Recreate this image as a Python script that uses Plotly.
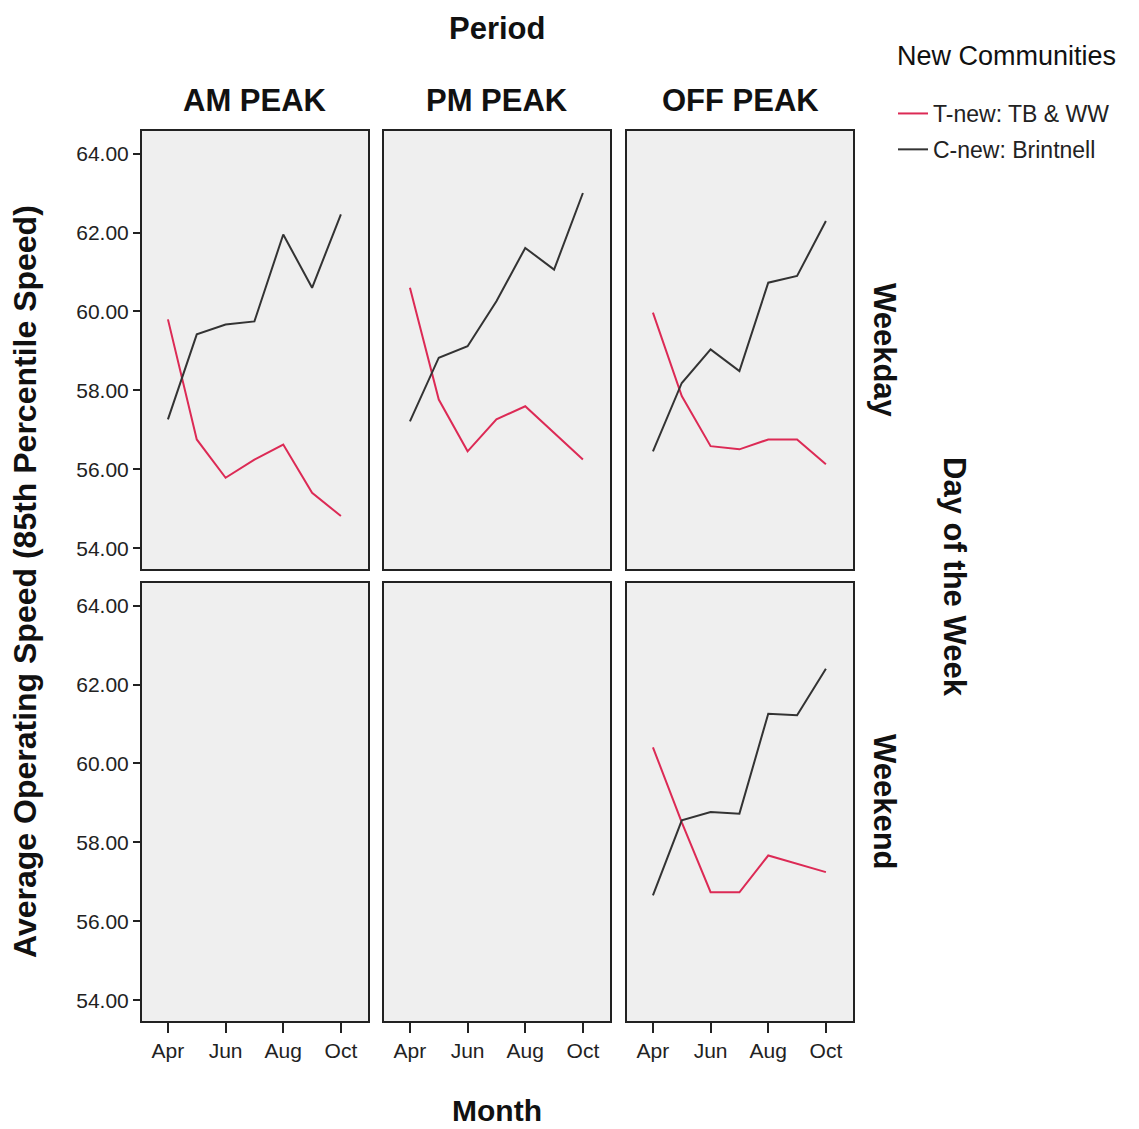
import plotly.graph_objects as go

# Months on the x axis and the labelled subset
months = ["Apr", "May", "Jun", "Jul", "Aug", "Sep", "Oct"]
month_ticks = ["Apr", "Jun", "Aug", "Oct"]

periods = ["AM PEAK", "PM PEAK", "OFF PEAK"]
days = ["Weekday", "Weekend"]
series_names = ["T-new: TB & WW", "C-new: Brintnell"]

# Average operating speed (85th percentile) by period / day type
am_weekday_t = [59.80, 56.76, 55.79, 56.25, 56.63, 55.41, 54.82]
am_weekday_c = [57.27, 59.42, 59.67, 59.75, 61.95, 60.60, 62.46]
pm_weekday_t = [60.60, 57.77, 56.46, 57.27, 57.60, 56.93, 56.25]
pm_weekday_c = [57.22, 58.83, 59.12, 60.26, 61.61, 61.06, 63.00]
off_weekday_t = [59.97, 57.86, 56.59, 56.51, 56.76, 56.76, 56.13]
off_weekday_c = [56.46, 58.19, 59.04, 58.49, 60.73, 60.90, 62.29]
off_weekend_t = [60.41, 58.51, 56.74, 56.74, 57.67, 57.46, 57.25]
off_weekend_c = [56.66, 58.56, 58.77, 58.73, 61.26, 61.22, 62.40]

y_ticks = [54, 56, 58, 60, 62, 64]

# (row, col) -> (T-new values, C-new values); empty panels have no data
panels = {
    (0, 0): (am_weekday_t, am_weekday_c),
    (0, 1): (pm_weekday_t, pm_weekday_c),
    (0, 2): (off_weekday_t, off_weekday_c),
    (1, 2): (off_weekend_t, off_weekend_c),
}

W, H = 1139, 1129
FONT = "Liberation Sans, Arial, sans-serif"
COLORS = ["#dc2a55", "#333333"]

col_px = [(142, 368), (384, 610), (627, 853)]
row_px = [(131, 569), (583, 1021)]


def xdom(c):
    a, b = col_px[c]
    return [a / W, b / W]


def ydom(r):
    a, b = row_px[r]
    return [1 - b / H, 1 - a / H]


fig = go.Figure()
layout = {}
shown = set()
for r in range(2):
    for c in range(3):
        idx = r * 3 + c + 1
        sx = "" if idx == 1 else str(idx)
        layout["xaxis" + sx] = dict(
            domain=xdom(c), anchor="y" + sx, type="category",
            categoryorder="array", categoryarray=months,
            range=[-0.9, 6.94], showgrid=False, zeroline=False,
            showline=True, mirror=True, linecolor="#222", linewidth=2,
            ticks="outside" if r == 1 else "", ticklen=10, tickwidth=2,
            tickcolor="#222", tickvals=month_ticks, ticktext=month_ticks,
            showticklabels=(r == 1),
            tickfont=dict(family=FONT, size=21, color="#222"),
        )
        layout["yaxis" + sx] = dict(
            domain=ydom(r), anchor="x" + sx, range=[53.48, 64.57],
            showgrid=False, zeroline=False, showline=True, mirror=True,
            linecolor="#222", linewidth=2,
            ticks="outside" if c == 0 else "", ticklen=7, tickwidth=2,
            tickcolor="#222", tickvals=y_ticks, tickformat=".2f",
            showticklabels=(c == 0),
            tickfont=dict(family=FONT, size=21, color="#222"),
        )
        if (r, c) in panels:
            for k, vals in enumerate(panels[(r, c)]):
                fig.add_trace(go.Scatter(
                    x=months, y=vals, mode="lines", name=series_names[k],
                    line=dict(color=COLORS[k], width=2),
                    xaxis="x" + sx, yaxis="y" + sx,
                    legendgroup=series_names[k],
                    showlegend=k not in shown,
                ))
                shown.add(k)
        else:
            # panel without data: an empty trace keeps its frame and axes drawn
            fig.add_trace(go.Scatter(
                x=[], y=[], mode="lines", showlegend=False, hoverinfo="skip",
                xaxis="x" + sx, yaxis="y" + sx,
            ))

annotations = []


def txt(text, x, y, size, bold=True, angle=0, xanchor="center", yanchor="middle"):
    annotations.append(dict(
        text=f"<b>{text}</b>" if bold else text, x=x / W, y=1 - y / H,
        xref="paper", yref="paper", showarrow=False, textangle=angle,
        xanchor=xanchor, yanchor=yanchor,
        font=dict(family=FONT, size=size, color="#111"),
    ))


txt("Period", 497, 28, 31)
for c, p in enumerate(periods):
    txt(p, (col_px[c][0] + col_px[c][1]) / 2, 100, 31)
txt(days[0], 885, 350, 31, angle=90)
txt(days[1], 885, 802, 31, angle=90)
txt("Day of the Week", 955, 577, 31, angle=90)
txt("Average Operating Speed (85th Percentile Speed)", 25, 582, 32, angle=-90)
txt("Month", 497, 1110, 30)
txt("New Communities", 1006, 56, 27, bold=False)

layout.update(
    width=W, height=H, autosize=False,
    margin=dict(l=0, r=0, t=0, b=0),
    paper_bgcolor="white", plot_bgcolor="#efefef",
    annotations=annotations,
    legend=dict(
        x=893 / W, y=1 - 92 / H, xanchor="left", yanchor="top",
        bgcolor="rgba(0,0,0,0)", traceorder="grouped", tracegroupgap=3,
        itemwidth=30, font=dict(family=FONT, size=23, color="#222"),
    ),
)
fig.update_layout(**layout)
fig.write_html("out.html")
